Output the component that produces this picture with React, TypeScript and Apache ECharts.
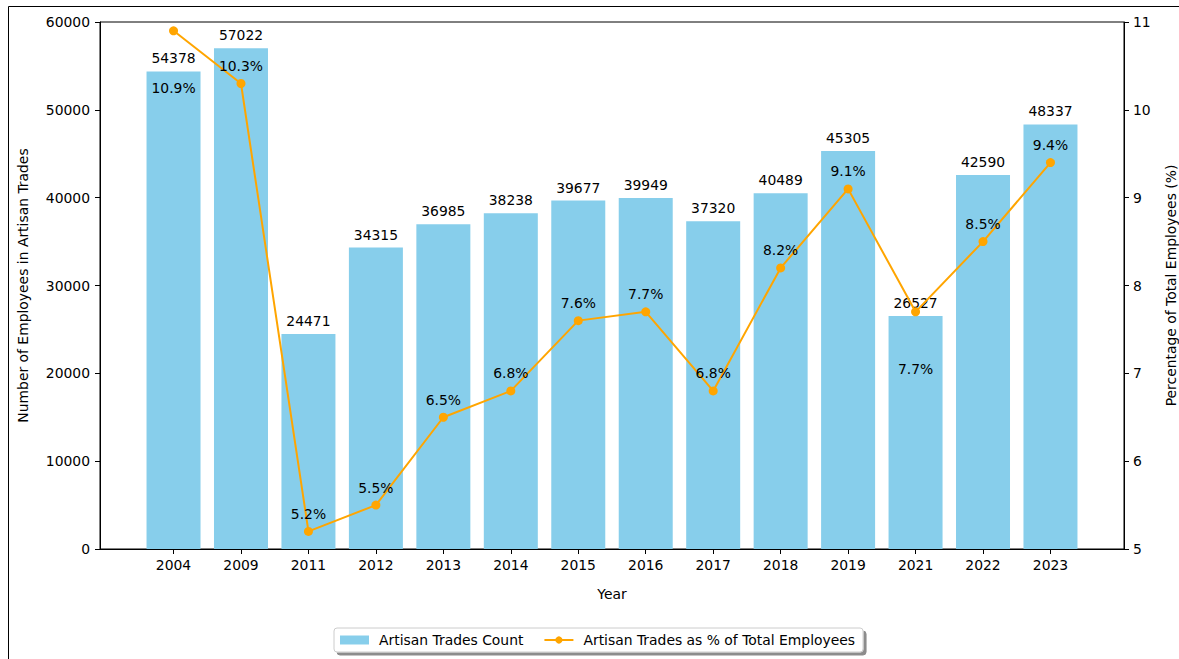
import React, { useEffect, useRef } from "react";
import * as echarts from "echarts";

const years = ["2004", "2009", "2011", "2012", "2013", "2014", "2015", "2016", "2017", "2018", "2019", "2021", "2022", "2023"];
const counts = [54378, 57022, 24471, 34315, 36985, 38238, 39677, 39949, 37320, 40489, 45305, 26527, 42590, 48337];
const percents = [10.9, 10.3, 5.2, 5.5, 6.5, 6.8, 7.6, 7.7, 6.8, 8.2, 9.1, 7.7, 8.5, 9.4];
const belowLabelYears = ["2004", "2021"];
const leftTicks = { min: 0, max: 60000, interval: 10000 };
const rightTicks = { min: 5, max: 11, interval: 1 };

const FONT = "DejaVu Sans";
const FS = 13.9;

export default function App() {
  const ref = useRef<HTMLDivElement>(null);
  useEffect(() => {
    document.body.style.margin = "0";
    document.body.style.overflow = "hidden";
    document.documentElement.style.overflow = "hidden";
    const chart = echarts.init(ref.current!, null, { renderer: "svg", width: 1179, height: 659 });
    const idx = years.map((_, i) => i);
    const option: any = {
      animation: false,
      backgroundColor: "#fff",
      textStyle: { fontFamily: FONT, fontSize: FS, color: "#000" },
      grid: {
        left: 100, right: 55, top: 22, bottom: 110,
        containLabel: false,
        outerBoundsMode: "none",
        show: true, borderColor: "#000", borderWidth: 1, backgroundColor: "transparent",
      },
      graphic: [
        { type: "line", shape: { x1: 8.5, y1: 6.5, x2: 1179, y2: 6.5 }, style: { stroke: "#000", lineWidth: 1 } },
        { type: "line", shape: { x1: 8.5, y1: 6.5, x2: 8.5, y2: 659 }, style: { stroke: "#000", lineWidth: 1 } },
      ],
      legend: {
        left: 334, top: 628,
        padding: [5, 8, 5, 6],
        itemGap: 20,
        itemWidth: 29, itemHeight: 9,
        borderColor: "#ccc", borderWidth: 1, borderRadius: 3,
        backgroundColor: "#fff",
        shadowColor: "rgba(0,0,0,0.45)", shadowOffsetX: 3, shadowOffsetY: 3, shadowBlur: 0,
        textStyle: { fontFamily: FONT, fontSize: FS, color: "#000", padding: [0, 0, 0, 5] },
        data: [
          { name: "Artisan Trades Count", icon: "rect" },
          { name: "Artisan Trades as % of Total Employees" },
        ],
      },
      xAxis: {
        type: "value",
        min: -1.09, max: 14.09,
        name: "Year", nameLocation: "middle", nameGap: 38,
        nameTextStyle: { fontFamily: FONT, fontSize: FS, color: "#000" },
        splitLine: { show: false },
        axisLine: { show: true, onZero: false, lineStyle: { color: "#000", width: 1 } },
        axisTick: { show: true, length: 5, lineStyle: { color: "#000" }, customValues: idx },
        axisLabel: {
          customValues: idx, margin: 9, fontFamily: FONT, fontSize: FS, color: "#000",
          formatter: (v: number) => years[Math.round(v)] ?? "",
        },
      },
      yAxis: [
        {
          type: "value", position: "left",
          min: leftTicks.min, max: leftTicks.max, interval: leftTicks.interval,
          name: "Number of Employees in Artisan Trades", nameLocation: "middle", nameGap: 70,
          nameTextStyle: { fontFamily: FONT, fontSize: FS, color: "#000" },
          splitLine: { show: false },
          axisLine: { show: true, onZero: false, lineStyle: { color: "#000" } },
          axisTick: { show: true, length: 5, lineStyle: { color: "#000" } },
          axisLabel: { margin: 10, fontFamily: FONT, fontSize: FS, color: "#000", formatter: (v: number) => String(v) },
        },
        {
          type: "value", position: "right",
          min: rightTicks.min, max: rightTicks.max, interval: rightTicks.interval,
          name: "Percentage of Total Employees (%)", nameLocation: "middle", nameGap: 40,
          nameTextStyle: { fontFamily: FONT, fontSize: FS, color: "#000" },
          splitLine: { show: false },
          axisLine: { show: true, onZero: false, lineStyle: { color: "#000" } },
          axisTick: { show: true, length: 5, lineStyle: { color: "#000" } },
          axisLabel: { margin: 9, fontFamily: FONT, fontSize: FS, color: "#000", formatter: (v: number) => String(v) },
        },
      ],
      series: [
        {
          name: "Artisan Trades Count",
          type: "bar",
          yAxisIndex: 0,
          barWidth: 54,
          itemStyle: { color: "#87CEEB" },
          data: counts.map((c, i) => [i, c]),
          label: {
            show: true, position: "top", distance: 6,
            fontFamily: FONT, fontSize: FS, color: "#000",
            formatter: (p: any) => String(p.value[1]),
          },
          z: 1,
        },
        {
          name: "Artisan Trades as % of Total Employees",
          type: "line",
          yAxisIndex: 1,
          symbol: "circle",
          symbolSize: 9,
          lineStyle: { color: "#FFA500", width: 2 },
          itemStyle: { color: "#FFA500" },
          data: percents.map((p, i) => {
            const below = belowLabelYears.includes(years[i]);
            return {
              value: [i, p],
              label: below
                ? { position: "bottom", distance: 46 }
                : { position: "top", distance: 6 },
            };
          }),
          label: {
            show: true,
            fontFamily: FONT, fontSize: FS, color: "#000",
            formatter: (p: any) => p.value[1].toFixed(1) + "%",
          },
          z: 3,
        },
      ],
    };
    chart.setOption(option);
    return () => chart.dispose();
  }, []);
  return <div ref={ref} style={{ position: "absolute", left: 0, top: 0, width: 1179, height: 659 }} />;
}
